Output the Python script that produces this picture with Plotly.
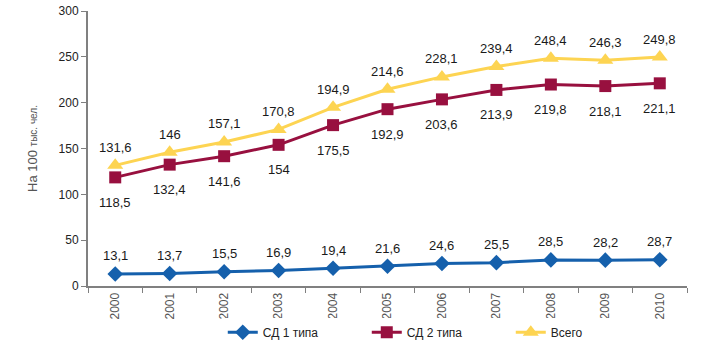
import plotly.graph_objects as go

years = ["2000", "2001", "2002", "2003", "2004", "2005", "2006", "2007", "2008", "2009", "2010"]
sd1 = [13.1, 13.7, 15.5, 16.9, 19.4, 21.6, 24.6, 25.5, 28.5, 28.2, 28.7]
sd2 = [118.5, 132.4, 141.6, 154, 175.5, 192.9, 203.6, 213.9, 219.8, 218.1, 221.1]
total = [131.6, 146, 157.1, 170.8, 194.9, 214.6, 228.1, 239.4, 248.4, 246.3, 249.8]

names = ["СД 1 типа", "СД 2 типа", "Всего"]
colors = ["#1560AC", "#98103F", "#FDD452"]
symbols = ["diamond", "square", "triangle-up"]
sizes = [12, 12, 14]
shifts = [18, -25, 18]

def fmt(v):
    return ("%g" % v).replace(".", ",")

fig = go.Figure()
series = [sd1, sd2, total]
for vals, name, c, sym, sz in zip(series, names, colors, symbols, sizes):
    fig.add_trace(go.Scatter(
        x=years, y=vals, name=name, mode="lines+markers",
        line=dict(color=c, width=3),
        marker=dict(symbol=sym, size=sz, color=c),
    ))

for vals, sh in zip(series, shifts):
    for i, v in enumerate(vals):
        fig.add_annotation(x=i, y=v, xref="x", yref="y", text=fmt(v),
                           showarrow=False, yshift=sh,
                           font=dict(size=13, color="#1a1a1a",
                                     family="Liberation Sans Narrow, Liberation Sans"))

fig.update_layout(
    width=715, height=354,
    margin=dict(l=88, r=28, t=11, b=68, autoexpand=False),
    plot_bgcolor="white", paper_bgcolor="white",
    font=dict(family="Liberation Sans, Arial", size=12, color="#222"),
    showlegend=True,
    legend=dict(orientation="h", x=0.225, xanchor="left", y=-0.168, yanchor="middle",
                entrywidth=99, entrywidthmode="pixels",
                font=dict(size=12, color="#222"), traceorder="normal"),
    xaxis=dict(type="category", range=[-0.5, 10.5], tickson="boundaries",
               ticks="outside", ticklen=5, tickcolor="#808080", automargin=False,
               showline=True, linecolor="#808080", linewidth=2,
               showgrid=False, tickangle=-90,
               tickfont=dict(size=12, color="#555")),
    yaxis=dict(range=[0, 300], dtick=50, ticks="outside", ticklen=5, automargin=False,
               tickcolor="#808080", showline=True, linecolor="#808080", linewidth=2,
               showgrid=False, zeroline=False,
               tickfont=dict(size=12, color="#222"),
               title=dict(text='На 100 <span style="font-size:10px">тыс. чел.</span>',
                          font=dict(size=13, color="#555"), standoff=18)),
)

fig.write_html("out.html")
